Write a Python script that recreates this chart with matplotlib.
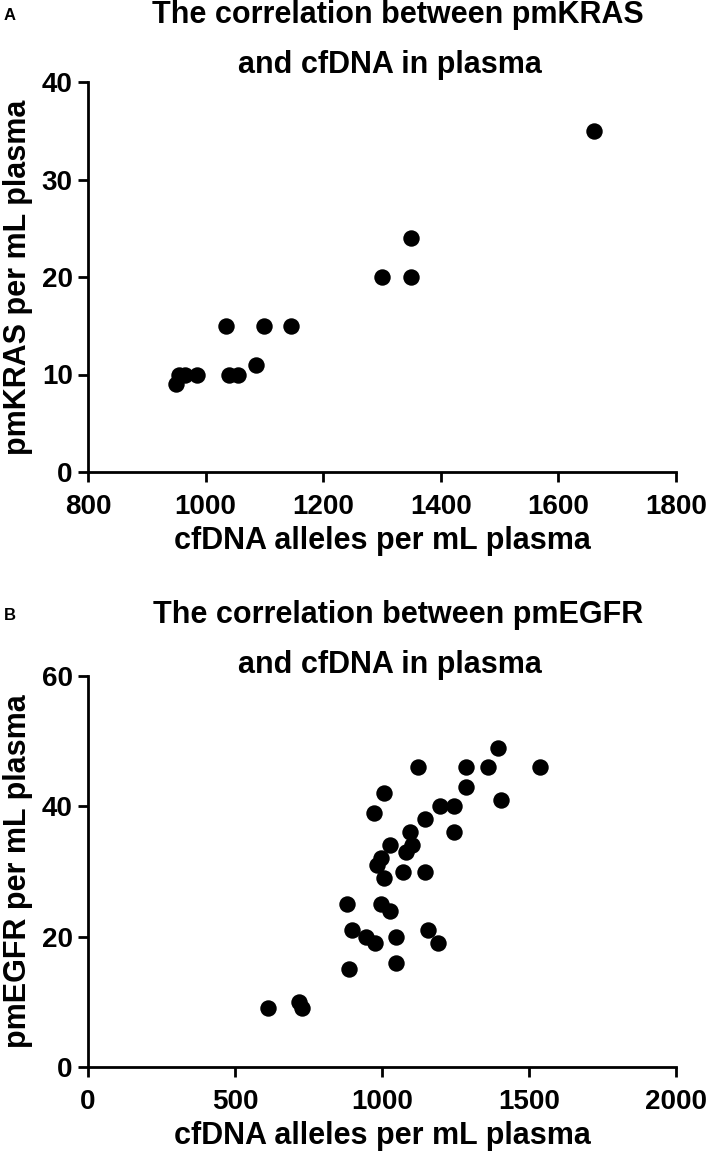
import matplotlib
matplotlib.use("Agg")
import matplotlib.pyplot as plt

plt.rcParams["font.family"] = ["Liberation Sans", "DejaVu Sans"]
plt.rcParams["font.weight"] = "bold"

# Panel A: pmKRAS vs cfDNA
kras_cfdna = [950, 955, 965, 985, 1040, 1055, 1085, 1035, 1100, 1145, 1300, 1350, 1350, 1660]
kras_pm = [9, 10, 10, 10, 10, 10, 11, 15, 15, 15, 20, 20, 24, 35]

# Panel B: pmEGFR vs cfDNA
egfr_cfdna = [611, 717, 727, 888, 881, 899, 946, 976, 1047, 1047, 995, 1027, 1156, 1192,
              1072, 1145, 1006, 982, 995, 1028, 1081, 1102, 1096, 1145, 1197, 1246, 1246,
              972, 1008, 1122, 1286, 1286, 1361, 1395, 1406, 1537]
egfr_pm = [9, 10, 9, 15, 25, 21, 20, 19, 20, 16, 25, 24, 21, 19,
           30, 30, 29, 31, 32, 34, 33, 34, 36, 38, 40, 40, 36,
           39, 42, 46, 43, 46, 46, 49, 41, 46]

W, H = 709, 1159
fig = plt.figure(figsize=(W / 100, H / 100), dpi=100)


def make_axes(x0, y0, x1, y1):
    # pixel box (top-left origin) -> figure fraction
    return fig.add_axes([x0 / W, 1 - y1 / H, (x1 - x0) / W, (y1 - y0) / H])


def style(ax):
    for side in ("top", "right"):
        ax.spines[side].set_visible(False)
    for side in ("left", "bottom"):
        ax.spines[side].set_linewidth(2.0)
    ax.tick_params(width=2.0, length=7, labelsize=20)
    ax.tick_params(axis="x", pad=9)
    ax.tick_params(axis="y", pad=4)
    for lab in ax.get_xticklabels() + ax.get_yticklabels():
        lab.set_fontweight("bold")


def titles(y_off, letter, gene):
    fig.text(398 / W, 1 - (15 + y_off) / H, f"The correlation between {gene}",
             ha="center", va="center", fontsize=22, fontweight="bold")
    fig.text(390 / W, 1 - (65 + y_off) / H, "and cfDNA in plasma",
             ha="center", va="center", fontsize=22, fontweight="bold")
    fig.text(4 / W, 1 - (16 + y_off) / H, letter, ha="left", va="center",
             fontsize=12, fontweight="bold")


axA = make_axes(88, 82, 676, 472)
axA.scatter(kras_cfdna, kras_pm, s=140, color="black", linewidths=0, zorder=3, clip_on=False)
axA.set_xlim(800, 1800)
axA.set_ylim(0, 40)
axA.set_xticks([800, 1000, 1200, 1400, 1600, 1800])
axA.set_yticks([0, 10, 20, 30, 40])
style(axA)
axA.set_xlabel("cfDNA alleles per mL plasma", fontsize=22, fontweight="bold", labelpad=4)
axA.set_ylabel("pmKRAS per mL plasma", fontsize=22, fontweight="bold", labelpad=6)
titles(0, "A", "pmKRAS")

axB = make_axes(88, 676, 676, 1067)
axB.scatter(egfr_cfdna, egfr_pm, s=140, color="black", linewidths=0, zorder=3, clip_on=False)
axB.set_xlim(0, 2000)
axB.set_ylim(0, 60)
axB.set_xticks([0, 500, 1000, 1500, 2000])
axB.set_yticks([0, 20, 40, 60])
style(axB)
axB.set_xlabel("cfDNA alleles per mL plasma", fontsize=22, fontweight="bold", labelpad=4)
axB.set_ylabel("pmEGFR per mL plasma", fontsize=22, fontweight="bold", labelpad=6)
titles(600, "B", "pmEGFR")

fig.savefig("out.png", dpi=100)
